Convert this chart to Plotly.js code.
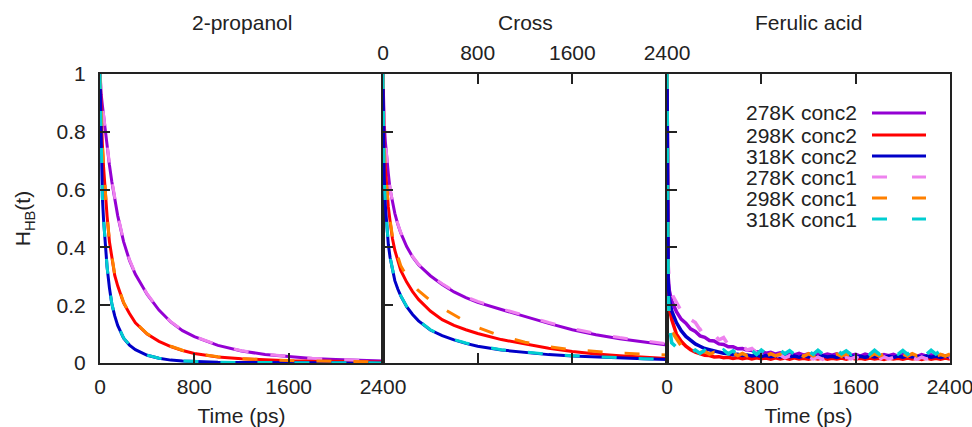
<!DOCTYPE html>
<html>
<head>
<meta charset="utf-8">
<script src="https://cdn.plot.ly/plotly-3.0.1.min.js"></script>
<style>html,body{margin:0;padding:0;background:#fff;}#chart{width:972px;height:427px;}</style>
</head>
<body>
<div id="chart"></div>
<script>
// ---------- data ----------
var panelTitles = ["2-propanol", "Cross", "Ferulic acid"];
var seriesNames = ["278K conc2", "298K conc2", "318K conc2", "278K conc1", "298K conc1", "318K conc1"];
var seriesColors = ["#9400d3", "#ff0000", "#0000c8", "#ee82ee", "#ff8000", "#00ced1"];
var xTicks = [0, 800, 1600, 2400];
var yTicks = [0, 0.2, 0.4, 0.6, 0.8, 1];

// smooth panels time grid (ps)
var tSmooth = [0, 5, 10, 20, 30, 45, 60, 80, 100, 125, 150, 200, 250, 300, 400, 500, 600, 700, 800, 1000, 1200, 1400, 1600, 1800, 2000, 2200, 2400];

// 2-propanol
var prop_278c2 = [1, 0.96, 0.93, 0.892, 0.854, 0.799, 0.748, 0.685, 0.628, 0.565, 0.51, 0.42, 0.355, 0.307, 0.237, 0.183, 0.142, 0.112, 0.091, 0.061, 0.0416, 0.0296, 0.0215, 0.0156, 0.0118, 0.0089, 0.0067];
var prop_298c2 = [1, 0.92, 0.85, 0.757, 0.68, 0.586, 0.508, 0.42, 0.364, 0.303, 0.267, 0.208, 0.171, 0.139, 0.10, 0.075, 0.057, 0.043, 0.0327, 0.021, 0.0144, 0.0107, 0.0079, 0.0065, 0.0053, 0.0043, 0.0036];
var prop_318c2 = [1, 0.85, 0.72, 0.575, 0.497, 0.40, 0.332, 0.26, 0.205, 0.163, 0.13, 0.086, 0.062, 0.046, 0.0267, 0.0163, 0.010, 0.0067, 0.0045, 0.0025, 0.0015, 0.001, 0.0007, 0.0005, 0.0004, 0.0003, 0.0003];
var prop_278c1 = [1, 0.965, 0.935, 0.898, 0.86, 0.805, 0.754, 0.69, 0.633, 0.569, 0.514, 0.423, 0.358, 0.309, 0.239, 0.184, 0.143, 0.113, 0.092, 0.062, 0.0425, 0.0303, 0.0222, 0.0162, 0.0123, 0.0094, 0.0072];
var prop_298c1 = [1, 0.92, 0.85, 0.758, 0.682, 0.589, 0.511, 0.423, 0.367, 0.306, 0.269, 0.21, 0.172, 0.14, 0.101, 0.076, 0.058, 0.044, 0.0335, 0.0217, 0.015, 0.0111, 0.0083, 0.0068, 0.0056, 0.0046, 0.0039];
var prop_318c1 = [1, 0.85, 0.72, 0.576, 0.498, 0.401, 0.333, 0.261, 0.206, 0.164, 0.131, 0.087, 0.063, 0.047, 0.0272, 0.0166, 0.0102, 0.0069, 0.0046, 0.0026, 0.0016, 0.001, 0.0007, 0.0005, 0.0004, 0.0003, 0.0003];

// Cross
var cross_278c2 = [1, 0.87, 0.83, 0.765, 0.715, 0.655, 0.60, 0.554, 0.518, 0.48, 0.45, 0.403, 0.367, 0.34, 0.302, 0.272, 0.246, 0.226, 0.21, 0.185, 0.16, 0.137, 0.115, 0.098, 0.084, 0.072, 0.062];
var cross_298c2 = [1, 0.80, 0.75, 0.675, 0.61, 0.54, 0.49, 0.43, 0.39, 0.35, 0.32, 0.28, 0.247, 0.22, 0.18, 0.15, 0.13, 0.115, 0.102, 0.081, 0.065, 0.051, 0.04, 0.031, 0.025, 0.02, 0.016];
var cross_318c2 = [1, 0.74, 0.645, 0.545, 0.48, 0.41, 0.365, 0.318, 0.285, 0.256, 0.232, 0.195, 0.168, 0.146, 0.114, 0.095, 0.08, 0.068, 0.058, 0.045, 0.036, 0.029, 0.024, 0.02, 0.017, 0.0145, 0.012];
var cross_278c1 = [1, 0.87, 0.83, 0.766, 0.716, 0.656, 0.601, 0.556, 0.52, 0.482, 0.452, 0.405, 0.369, 0.342, 0.304, 0.274, 0.249, 0.229, 0.213, 0.188, 0.163, 0.14, 0.119, 0.102, 0.088, 0.076, 0.066];
var cross_298c1 = [1, 0.80, 0.75, 0.675, 0.61, 0.542, 0.494, 0.437, 0.40, 0.364, 0.337, 0.30, 0.272, 0.25, 0.216, 0.19, 0.166, 0.143, 0.123, 0.093, 0.072, 0.056, 0.046, 0.039, 0.034, 0.031, 0.028];
var cross_318c1 = [1, 0.74, 0.645, 0.546, 0.481, 0.411, 0.366, 0.319, 0.286, 0.257, 0.233, 0.196, 0.169, 0.147, 0.115, 0.096, 0.081, 0.069, 0.059, 0.046, 0.037, 0.03, 0.025, 0.021, 0.018, 0.015, 0.013];

// Ferulic acid (noisy) time grid (ps)
var tFer = [0, 10, 20, 40, 80, 120, 160, 200, 240, 280, 320, 360, 400, 440, 480, 520, 560, 600, 640, 680, 720, 760, 800, 840, 880, 920, 960, 1000, 1040, 1080, 1120, 1160, 1200, 1240, 1280, 1320, 1360, 1400, 1440, 1480, 1520, 1560, 1600, 1640, 1680, 1720, 1760, 1800, 1840, 1880, 1920, 1960, 2000, 2040, 2080, 2120, 2160, 2200, 2240, 2280, 2320, 2360, 2400];
var fer_278c2 = [1, 0.30, 0.25, 0.215, 0.178, 0.152, 0.138, 0.118, 0.109, 0.094, 0.089, 0.078, 0.076, 0.066, 0.064, 0.056, 0.056, 0.049, 0.050, 0.044, 0.045, 0.038, 0.040, 0.034, 0.037, 0.031, 0.035, 0.029, 0.034, 0.028, 0.033, 0.027, 0.032, 0.028, 0.033, 0.026, 0.031, 0.027, 0.032, 0.025, 0.031, 0.026, 0.030, 0.024, 0.031, 0.026, 0.030, 0.024, 0.029, 0.025, 0.030, 0.023, 0.029, 0.025, 0.028, 0.023, 0.029, 0.024, 0.028, 0.022, 0.028, 0.024, 0.027];
var fer_298c2 = [1, 0.25, 0.19, 0.15, 0.10, 0.075, 0.058, 0.046, 0.038, 0.033, 0.027, 0.026, 0.021, 0.022, 0.018, 0.020, 0.016, 0.019, 0.015, 0.018, 0.014, 0.018, 0.015, 0.017, 0.013, 0.018, 0.014, 0.017, 0.013, 0.018, 0.014, 0.016, 0.013, 0.017, 0.014, 0.018, 0.013, 0.016, 0.014, 0.017, 0.013, 0.018, 0.014, 0.016, 0.013, 0.017, 0.014, 0.016, 0.012, 0.017, 0.014, 0.016, 0.013, 0.017, 0.014, 0.016, 0.012, 0.017, 0.013, 0.016, 0.013, 0.017, 0.014];
var fer_318c2 = [1, 0.28, 0.22, 0.18, 0.14, 0.112, 0.092, 0.078, 0.066, 0.058, 0.050, 0.046, 0.041, 0.038, 0.034, 0.033, 0.029, 0.030, 0.026, 0.028, 0.024, 0.027, 0.023, 0.026, 0.022, 0.025, 0.021, 0.026, 0.022, 0.024, 0.020, 0.025, 0.021, 0.024, 0.020, 0.025, 0.021, 0.023, 0.019, 0.024, 0.021, 0.025, 0.020, 0.023, 0.019, 0.024, 0.021, 0.024, 0.020, 0.023, 0.019, 0.024, 0.020, 0.025, 0.021, 0.023, 0.019, 0.024, 0.020, 0.023, 0.019, 0.024, 0.021];
var fer_278c1 = [1, 0.34, 0.28, 0.24, 0.21, 0.18, 0.19, 0.15, 0.14, 0.115, 0.125, 0.095, 0.10, 0.08, 0.088, 0.062, 0.07, 0.055, 0.058, 0.045, 0.05, 0.035, 0.04, 0.028, 0.032, 0.022, 0.028, 0.018, 0.025, 0.016, 0.022, 0.015, 0.021, 0.014, 0.020, 0.013, 0.021, 0.015, 0.019, 0.013, 0.020, 0.014, 0.021, 0.013, 0.019, 0.015, 0.020, 0.013, 0.021, 0.014, 0.019, 0.013, 0.020, 0.015, 0.018, 0.013, 0.020, 0.014, 0.019, 0.013, 0.020, 0.014, 0.019];
var fer_298c1 = [1, 0.22, 0.15, 0.11, 0.085, 0.06, 0.052, 0.042, 0.045, 0.036, 0.040, 0.031, 0.037, 0.029, 0.035, 0.027, 0.034, 0.026, 0.033, 0.025, 0.032, 0.026, 0.033, 0.024, 0.032, 0.025, 0.031, 0.024, 0.032, 0.025, 0.031, 0.023, 0.032, 0.025, 0.030, 0.024, 0.032, 0.025, 0.031, 0.023, 0.032, 0.024, 0.031, 0.025, 0.030, 0.023, 0.032, 0.024, 0.031, 0.025, 0.030, 0.023, 0.031, 0.024, 0.032, 0.025, 0.030, 0.024, 0.031, 0.023, 0.030, 0.024, 0.031];
var fer_318c1 = [1, 0.26, 0.13, 0.07, 0.055, 0.04, 0.048, 0.035, 0.045, 0.033, 0.044, 0.032, 0.043, 0.031, 0.045, 0.032, 0.042, 0.030, 0.044, 0.031, 0.043, 0.030, 0.045, 0.031, 0.042, 0.030, 0.044, 0.032, 0.043, 0.030, 0.045, 0.031, 0.042, 0.030, 0.044, 0.031, 0.043, 0.030, 0.045, 0.032, 0.042, 0.030, 0.044, 0.031, 0.043, 0.030, 0.044, 0.031, 0.042, 0.030, 0.045, 0.031, 0.043, 0.030, 0.044, 0.032, 0.042, 0.030, 0.044, 0.031, 0.043, 0.030, 0.044];

// ---------- build ----------
var FONT = "Liberation Sans, Arial, sans-serif";
var INK = "#222";
var FS = 21;
var DASH = "15px,22px";

var panels = [
  {t: tSmooth, ys: [prop_278c2, prop_298c2, prop_318c2, prop_278c1, prop_298c1, prop_318c1], xa: "x", ya: "y", w: 3},
  {t: tSmooth, ys: [cross_278c2, cross_298c2, cross_318c2, cross_278c1, cross_298c1, cross_318c1], xa: "x2", ya: "y2", w: 3},
  {t: tFer, ys: [fer_278c2, fer_298c2, fer_318c2, fer_278c1, fer_298c1, fer_318c1], xa: "x3", ya: "y3", w: 3.5}
];

var traces = [];
panels.forEach(function (p) {
  for (var i = 0; i < 6; i++) {
    traces.push({
      type: "scatter", mode: "lines",
      x: p.t, y: p.ys[i], xaxis: p.xa, yaxis: p.ya,
      name: seriesNames[i], showlegend: false, hoverinfo: "skip",
      line: {color: seriesColors[i], width: p.w, dash: i < 3 ? "solid" : DASH, shape: "linear"}
    });
  }
});

function xAxis(dom, anchor, side, mirror) {
  return {domain: dom, anchor: anchor, range: [0, 2400], side: side,
    tickvals: xTicks, ticktext: xTicks.map(String), showticklabels: true,
    ticklabeloverflow: "allow",
    ticks: "inside", ticklen: 10, tickwidth: 2, tickcolor: INK,
    showline: true, linewidth: 2, linecolor: INK, mirror: mirror,
    showgrid: false, zeroline: false, ticklabelstandoff: 4,
    tickfont: {family: FONT, size: FS, color: INK}};
}
function yAxis(anchor, labels) {
  return {domain: [0, 1], anchor: anchor, range: [0, 1],
    tickvals: yTicks, ticktext: yTicks.map(String), showticklabels: labels,
    ticks: "inside", ticklen: 10, tickwidth: 2, tickcolor: INK,
    showline: true, linewidth: 2, linecolor: INK, mirror: true,
    showgrid: false, zeroline: false, ticklabelstandoff: 8,
    tickfont: {family: FONT, size: FS, color: INK}};
}

var d1 = [0, 283 / 850], d2 = [283 / 850, 567 / 850], d3 = [567 / 850, 1];
var xa1 = xAxis(d1, "y", "bottom", true);
xa1.title = {text: "Time (ps)", font: {family: FONT, size: FS, color: INK}, standoff: 12};
var xa2 = xAxis(d2, "y2", "top", "ticks");
var xa3 = xAxis(d3, "y3", "bottom", "ticks");
xa3.title = {text: "Time (ps)", font: {family: FONT, size: FS, color: INK}, standoff: 12};
var ya1 = yAxis("x", true);
ya1.title = {text: "H<sub>HB</sub>(t)", font: {family: FONT, size: FS, color: INK}, standoff: 20};
var ya2 = yAxis("x2", false);
var ya3 = yAxis("x3", false);

var annotations = [];
var centers = [(d1[0] + d1[1]) / 2, (d2[0] + d2[1]) / 2, (d3[0] + d3[1]) / 2];
panelTitles.forEach(function (txt, i) {
  annotations.push({text: txt, xref: "paper", yref: "paper", x: centers[i], y: 1 + (74 - 23) / 289,
    xanchor: "center", yanchor: "middle", showarrow: false,
    font: {family: FONT, size: FS, color: INK}});
});

// custom legend: text right-aligned, sample line after it
var shapes = [];
var legRowsY = [113, 135, 156, 177, 198, 219];
seriesNames.forEach(function (nm, i) {
  var yp = (363 - legRowsY[i]) / 289;
  annotations.push({text: nm, xref: "paper", yref: "paper", x: (859 - 100) / 850, y: yp,
    xanchor: "right", yanchor: "middle", showarrow: false,
    font: {family: FONT, size: FS, color: INK}});
  shapes.push({type: "line", xref: "paper", yref: "paper",
    x0: (872 - 100) / 850, x1: (926 - 100) / 850, y0: yp, y1: yp,
    line: {color: seriesColors[i], width: 3, dash: i < 3 ? "solid" : "15px,25px"}});
});

var layout = {
  width: 972, height: 427,
  margin: {l: 100, r: 22, t: 74, b: 64},
  paper_bgcolor: "#fff", plot_bgcolor: "#fff",
  showlegend: false,
  xaxis: xa1, xaxis2: xa2, xaxis3: xa3,
  yaxis: ya1, yaxis2: ya2, yaxis3: ya3,
  annotations: annotations, shapes: shapes,
  font: {family: FONT, size: FS, color: INK}
};

Plotly.newPlot("chart", traces, layout, {staticPlot: true, displayModeBar: false});
</script>
</body>
</html>
